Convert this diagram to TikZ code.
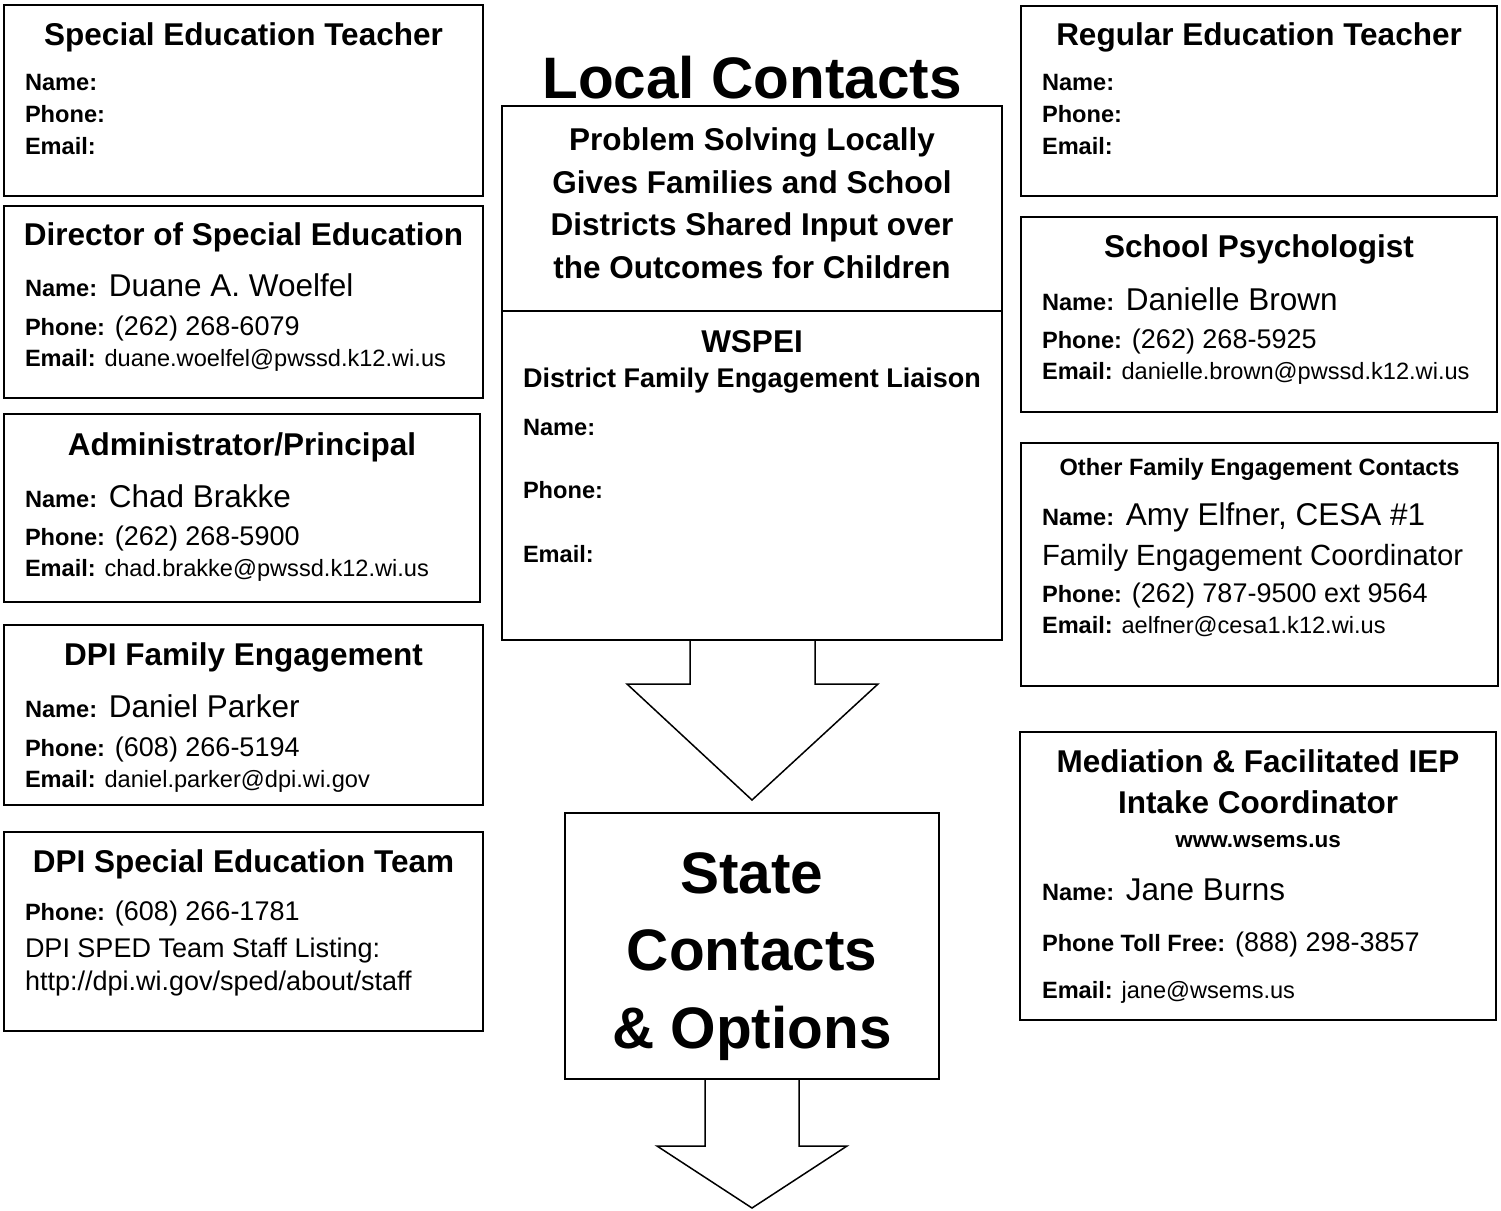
\documentclass[tikz,border=0pt]{standalone}
\usepackage{fontspec}
\setmainfont{Liberation Sans}
\newcommand\fsT{\fontsize{31.5}{36}\selectfont\bfseries}
\newcommand\fsL{\fontsize{23.6}{28}\selectfont\bfseries}
\newcommand\fsN{\fontsize{31.5}{36}\selectfont}
\newcommand\fsP{\fontsize{27}{32}\selectfont}
\newcommand\fsE{\fontsize{23.6}{28}\selectfont}
\newcommand\fsH{\fontsize{58.5}{66}\selectfont\bfseries}
\begin{document}
\begin{tikzpicture}[x=1pt,y=-1pt,
  box/.style={draw=black, line width=1.8pt, inner sep=0pt, outer sep=0pt, anchor=north west},
  txt/.style={inner sep=0pt, outer sep=0pt, anchor=base west},
  ttl/.style={inner sep=0pt, outer sep=0pt, anchor=base},
  blockarrow/.style={draw=black, line width=1.5pt, line join=miter}]
\fill[white] (0,0) rectangle (1501,1210);
\useasboundingbox (0,0) rectangle (1501,1210);

% ---------- left column ----------
\node[box, minimum width=479pt, minimum height=191pt] (L1) at (4,5) {};
\node[ttl] (L1t) at (243.5,45) {\fsT Special Education Teacher};
\node[txt] (L1n) at (25,90.7) {\fsL Name:};
\node[txt] (L1p) at (25,122.7) {\fsL Phone:};
\node[txt] (L1e) at (25,154) {\fsL Email:};

\node[box, minimum width=479pt, minimum height=192pt] (L2) at (4,206) {};
\node[ttl] (L2t) at (243.5,245) {\fsT Director of Special Education};
\node[txt] (L2n) at (25,296.7) {\fsN{\fsL Name:} Duane A. Woelfel};
\node[txt] (L2p) at (25,335) {\fsP{\fsL Phone:} (262) 268-6079};
\node[txt] (L2e) at (25,366.7) {\fsE{\fsL Email:} duane.woelfel@pwssd.k12.wi.us};

\node[box, minimum width=476pt, minimum height=188pt] (L3) at (4,414) {};
\node[ttl] (L3t) at (242,455) {\fsT Administrator/Principal};
\node[txt] (L3n) at (25,507) {\fsN{\fsL Name:} Chad Brakke};
\node[txt] (L3p) at (25,545) {\fsP{\fsL Phone:} (262) 268-5900};
\node[txt] (L3e) at (25,576) {\fsE{\fsL Email:} chad.brakke@pwssd.k12.wi.us};

\node[box, minimum width=479pt, minimum height=180pt] (L4) at (4,625) {};
\node[ttl] (L4t) at (243.5,665) {\fsT DPI Family Engagement};
\node[txt] (L4n) at (25,717) {\fsN{\fsL Name:} Daniel Parker};
\node[txt] (L4p) at (25,756) {\fsP{\fsL Phone:} (608) 266-5194};
\node[txt] (L4e) at (25,787) {\fsE{\fsL Email:} daniel.parker@dpi.wi.gov};

\node[box, minimum width=479pt, minimum height=199pt] (L5) at (4,832) {};
\node[ttl] (L5t) at (243.5,872) {\fsT DPI Special Education Team};
\node[txt] (L5p) at (25,920) {\fsP{\fsL Phone:} (608) 266-1781};
\node[txt] (L5s) at (25,957) {\fsP DPI SPED Team Staff Listing:};
\node[txt] (L5u) at (25,990) {\fsP http://dpi.wi.gov/sped/about/staff};

% ---------- centre column ----------
\node[ttl] (LC) at (752,98) {\fsH Local Contacts};
\node[box, minimum width=500pt, minimum height=205pt] (C1) at (502,106) {};
\node[ttl] (C1a) at (752,150) {\fsT Problem Solving Locally};
\node[ttl] (C1b) at (752,193) {\fsT Gives Families and School};
\node[ttl] (C1c) at (752,235.5) {\fsT Districts Shared Input over};
\node[ttl] (C1d) at (752,278) {\fsT the Outcomes for Children};

\node[box, minimum width=500pt, minimum height=329pt] (C2) at (502,311) {};
\node[ttl] (C2t) at (752,352) {\fsT WSPEI};
\node[ttl] (C2s) at (752,387) {\fontsize{27}{32}\selectfont\bfseries District Family Engagement Liaison};
\node[txt] (C2n) at (523,435) {\fsL Name:};
\node[txt] (C2p) at (523,498) {\fsL Phone:};
\node[txt] (C2e) at (523,562) {\fsL Email:};

\coordinate (A1a) at (690,640);
\coordinate (A1b) at (815,640);
\draw[blockarrow] (A1a) -- (690,684) -- (627,684) -- (752,800) -- (878,684) -- (815,684) -- (A1b);

\node[box, minimum width=374pt, minimum height=266pt] (S) at (565,813) {};
\node[ttl] (S1) at (752,893) {\fsH State};
\node[ttl] (S2) at (752,970) {\fsH Contacts};
\node[ttl] (S3) at (752,1048) {\fsH \& Options};

\coordinate (A2a) at (705,1079);
\coordinate (A2b) at (799,1079);
\draw[blockarrow] (A2a) -- (705,1146) -- (657,1146) -- (752,1208) -- (847,1146) -- (799,1146) -- (A2b);

% ---------- right column ----------
\node[box, minimum width=476pt, minimum height=190pt] (R1) at (1021,6) {};
\node[ttl] (R1t) at (1259,45) {\fsT Regular Education Teacher};
\node[txt] (R1n) at (1042,90.7) {\fsL Name:};
\node[txt] (R1p) at (1042,122.7) {\fsL Phone:};
\node[txt] (R1e) at (1042,154) {\fsL Email:};

\node[box, minimum width=476pt, minimum height=195pt] (R2) at (1021,217) {};
\node[ttl] (R2t) at (1259,257) {\fsT School Psychologist};
\node[txt] (R2n) at (1042,310) {\fsN{\fsL Name:} Danielle Brown};
\node[txt] (R2p) at (1042,348) {\fsP{\fsL Phone:} (262) 268-5925};
\node[txt] (R2e) at (1042,379) {\fsE{\fsL Email:} danielle.brown@pwssd.k12.wi.us};

\node[box, minimum width=477pt, minimum height=243pt] (R3) at (1021,443) {};
\node[ttl] (R3t) at (1259.5,475) {\fsL Other Family Engagement Contacts};
\node[txt] (R3n) at (1042,525) {\fsN{\fsL Name:} Amy Elfner, CESA \#1};
\node[txt] (R3f) at (1042,565) {\fontsize{29.25}{34}\selectfont Family Engagement Coordinator};
\node[txt] (R3p) at (1042,602) {\fsP{\fsL Phone:} (262) 787-9500 ext 9564};
\node[txt] (R3e) at (1042,633) {\fsE{\fsL Email:} aelfner@cesa1.k12.wi.us};

\node[box, minimum width=476pt, minimum height=288pt] (R4) at (1020,732) {};
\node[ttl] (R4t) at (1258,772) {\fsT Mediation \& Facilitated IEP};
\node[ttl] (R4u) at (1258,813) {\fsT Intake Coordinator};
\node[ttl] (R4w) at (1258,847) {\fontsize{22.5}{27}\selectfont\bfseries www.wsems.us};
\node[txt] (R4n) at (1042,900) {\fsN{\fsL Name:} Jane Burns};
\node[txt] (R4p) at (1042,951) {\fsP{\fsL Phone Toll Free:} (888) 298-3857};
\node[txt] (R4e) at (1042,998) {\fsE{\fsL Email:} jane@wsems.us};
\end{tikzpicture}
\end{document}
